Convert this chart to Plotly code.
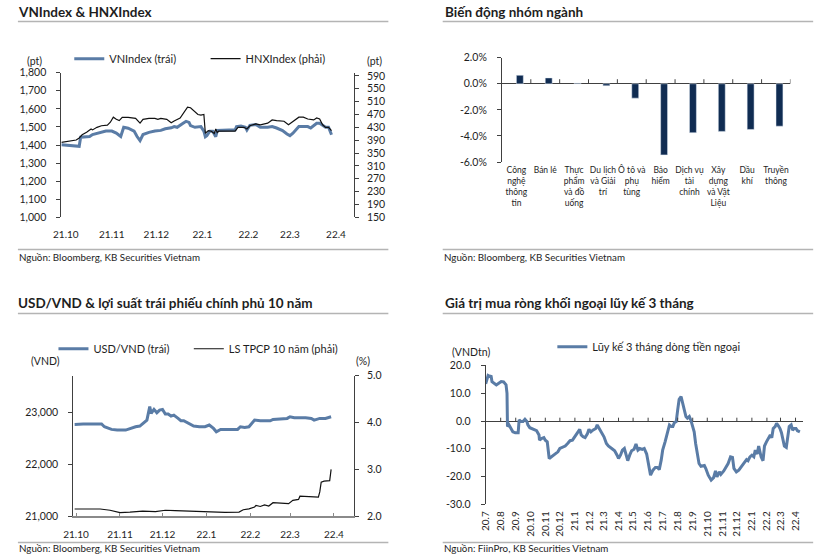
import plotly.graph_objects as go
import pandas as pd

W, H = 826, 559
def fx(x): return x / W
def fy(y):
    # the photographed page is squeezed slightly in height; map reference pixel rows accordingly
    return 1 - ((y - 7.5) / 0.975) / H

FONT = "Lato"
TXT = "#1e1e1e"
BLUE = "#5a7ca6"
NAVY = "#102c52"
SEP = "#b4b4b4"

# ---------------- Panel 1: VNIndex & HNXIndex ----------------
vn_dates = ["2021-09-28","2021-10-01","2021-10-10","2021-10-11","2021-10-17","2021-10-19","2021-10-23","2021-10-28",
            "2021-11-01","2021-11-04","2021-11-07","2021-11-09","2021-11-12","2021-11-16","2021-11-18","2021-11-20",
            "2021-11-22","2021-11-26","2021-11-30","2021-12-04","2021-12-07","2021-12-11","2021-12-13","2021-12-15",
            "2021-12-19","2021-12-21","2021-12-23","2021-12-24","2021-12-27","2021-12-29","2021-12-31","2022-01-02",
            "2022-01-03","2022-01-04","2022-01-06","2022-01-08","2022-01-10","2022-01-11","2022-01-15","2022-01-19",
            "2022-01-23","2022-01-24","2022-01-27","2022-01-30","2022-01-31","2022-02-02","2022-02-06","2022-02-09",
            "2022-02-14","2022-02-17","2022-02-20","2022-02-24","2022-02-27","2022-03-01","2022-03-03","2022-03-07",
            "2022-03-10","2022-03-13","2022-03-15","2022-03-19","2022-03-21","2022-03-23","2022-03-25","2022-03-27",
            "2022-03-29"]
vn_values = [1401,1400,1393,1443,1447,1458,1466,1477,
             1477,1466,1447,1498,1493,1477,1447,1424,
             1458,1470,1477,1481,1490,1495,1502,1498,
             1520,1531,1525,1507,1498,1498,1502,1477,
             1446,1452,1476,1476,1446,1480,1483,1483,
             1483,1502,1505,1498,1483,1509,1513,1498,
             1498,1502,1494,1480,1461,1452,1465,1502,
             1502,1502,1494,1520,1520,1507,1498,1498,
             1457]

hnx_dates = ["2021-09-28","2021-10-03","2021-10-08","2021-10-10","2021-10-12","2021-10-15","2021-10-18","2021-10-19",
             "2021-10-22","2021-10-25","2021-10-29","2021-10-31","2021-11-02","2021-11-04","2021-11-06","2021-11-08",
             "2021-11-12","2021-11-17","2021-11-20","2021-11-22","2021-11-26","2021-11-30","2021-12-02","2021-12-04",
             "2021-12-08","2021-12-11","2021-12-13","2021-12-17","2021-12-20","2021-12-22","2021-12-24","2021-12-27",
             "2021-12-29","2021-12-31","2022-01-02","2022-01-03","2022-01-05","2022-01-07","2022-01-09","2022-01-10",
             "2022-01-11","2022-01-12","2022-01-15","2022-01-23","2022-01-25","2022-01-29","2022-01-31","2022-02-02",
             "2022-02-06","2022-02-09","2022-02-14","2022-02-17","2022-02-20","2022-02-25","2022-02-28","2022-03-03",
             "2022-03-07","2022-03-10","2022-03-13","2022-03-17","2022-03-19","2022-03-21","2022-03-23","2022-03-25",
             "2022-03-27","2022-03-29"]
hnx_values = [383,386.5,390.6,397,407,414.6,425,422,
              430,435,437,446,461.5,455,451,461,
              461,458,443,455,458,458,455,458,
              455,444,450,459,482,493,491,477,
              470,468,470,411.5,420,418,411,425,
              414,418,418,418,430,430,425,435,
              440.6,438,443,453,451,449,438,449,
              461.5,461.5,456,453,459,456,438,430,
              430,420]

vn_ticks = [1000,1100,1200,1300,1400,1500,1600,1700,1800]
hnx_ticks = [150,190,230,270,310,350,390,430,470,510,550,590]

# ---------------- Panel 2: Sector performance ----------------
sectors = ["Công nghệ thông tin","Bán lẻ","Thực phẩm và đồ uống","Du lịch và Giải trí","Ô tô và phụ tùng",
           "Bảo hiểm","Dịch vụ tài chính","Xây dựng và Vật Liệu","Dầu khí","Truyền thông"]
sector_labels = ["Công<br>nghệ<br>thông<br>tin","Bán lẻ","Thực<br>phẩm<br>và đồ<br>uống","Du lịch<br>và Giải<br>trí",
                 "Ô tô và<br>phụ<br>tùng","Bảo<br>hiểm","Dịch vụ<br>tài<br>chính","Xây<br>dựng<br>và Vật<br>Liệu",
                 "Dầu<br>khí","Truyền<br>thông"]
sector_change = [0.65,0.45,0.05,-0.15,-1.1,-5.45,-3.75,-3.65,-3.5,-3.25]
pct_ticks = [2,0,-2,-4,-6]
pct_ticktext = ["2.0%","0.0%","-2.0%","-4.0%","-6.0%"]

# ---------------- Panel 3: USD/VND & 10Y bond yield ----------------
fx_dates = ["2021-09-30","2021-10-06","2021-10-19","2021-10-21","2021-10-26","2021-10-30","2021-11-05","2021-11-08",
            "2021-11-12","2021-11-15","2021-11-17","2021-11-20","2021-11-22","2021-11-23","2021-11-25","2021-11-27",
            "2021-11-29","2021-12-01","2021-12-03","2021-12-05","2021-12-07","2021-12-09","2021-12-12","2021-12-14",
            "2021-12-16","2021-12-20","2021-12-23","2021-12-27","2021-12-31","2022-01-03","2022-01-05","2022-01-06",
            "2022-01-08","2022-01-11","2022-01-16","2022-01-23","2022-01-25","2022-01-28","2022-01-31","2022-02-02",
            "2022-02-04","2022-02-08","2022-02-15","2022-02-17","2022-02-24","2022-02-27","2022-03-01","2022-03-04",
            "2022-03-12","2022-03-16","2022-03-18","2022-03-20","2022-03-22","2022-03-26","2022-03-30"]
usdvnd = [22763,22770,22770,22718,22667,22654,22654,22686,
          22718,22731,22782,22846,23103,22974,23051,22987,
          23038,23051,22962,22962,22923,22942,22878,22833,
          22833,22770,22731,22718,22718,22750,22718,22686,
          22622,22667,22667,22667,22718,22705,22718,22782,
          22846,22833,22833,22859,22865,22878,22910,22891,
          22891,22878,22846,22859,22878,22878,22910]

bond_dates = ["2021-09-30","2021-10-18","2021-10-25","2021-11-01","2021-11-08","2021-11-17","2021-11-26","2021-12-03",
              "2021-12-10","2021-12-19","2021-12-28","2022-01-07","2022-01-14","2022-01-24","2022-01-27","2022-01-31",
              "2022-02-04","2022-02-05","2022-02-08","2022-02-11","2022-02-14","2022-02-17","2022-02-20","2022-02-28",
              "2022-03-03","2022-03-07","2022-03-08","2022-03-21","2022-03-22","2022-03-23","2022-03-25","2022-03-28",
              "2022-03-29","2022-03-30"]
bond_yield = [2.156,2.156,2.13,2.08,2.09,2.11,2.10,2.13,
              2.12,2.11,2.10,2.085,2.085,2.09,2.14,2.16,
              2.20,2.235,2.21,2.245,2.22,2.29,2.285,2.27,
              2.34,2.36,2.43,2.41,2.52,2.73,2.75,2.75,
              2.76,3.0]

# ---------------- Panel 4: foreign net buying, 3M cumulative ----------------
flow_dates = ["2020-07-01","2020-07-04","2020-07-06","2020-07-10","2020-07-12","2020-07-14","2020-07-19","2020-07-23",
              "2020-07-28","2020-08-02","2020-08-07","2020-08-12","2020-08-14","2020-08-15","2020-08-18","2020-08-22",
              "2020-08-26","2020-08-31","2020-09-06","2020-09-08","2020-09-12","2020-09-16","2020-09-20","2020-09-24",
              "2020-09-26","2020-09-30","2020-10-07","2020-10-14","2020-10-19","2020-10-20","2020-10-24","2020-10-29",
              "2020-11-01","2020-11-05","2020-11-09","2020-11-13","2020-11-20","2020-11-27","2020-12-01","2020-12-07",
              "2020-12-12","2020-12-17","2020-12-22","2020-12-27","2021-01-01","2021-01-06","2021-01-11","2021-01-14",
              "2021-01-18","2021-01-22","2021-01-27","2021-01-30","2021-02-03","2021-02-07","2021-02-13","2021-02-16",
              "2021-02-20","2021-02-25","2021-03-02","2021-03-07","2021-03-11","2021-03-18","2021-03-24","2021-03-29",
              "2021-04-01","2021-04-05","2021-04-09","2021-04-13","2021-04-16","2021-04-20","2021-04-24","2021-04-28",
              "2021-05-03","2021-05-07","2021-05-11","2021-05-15","2021-05-20","2021-05-24","2021-05-29","2021-06-02",
              "2021-06-06","2021-06-11","2021-06-16","2021-06-20","2021-06-24","2021-06-28","2021-07-01","2021-07-06",
              "2021-07-12","2021-07-15","2021-07-19","2021-07-22","2021-07-25","2021-07-29","2021-08-01","2021-08-04",
              "2021-08-08","2021-08-11","2021-08-15","2021-08-18","2021-08-21","2021-08-25","2021-08-28","2021-09-01",
              "2021-09-04","2021-09-07","2021-09-11","2021-09-14","2021-09-18","2021-09-25","2021-09-28","2021-10-03",
              "2021-10-09","2021-10-14","2021-10-18","2021-10-21","2021-10-26","2021-10-29","2021-11-04","2021-11-08",
              "2021-11-13","2021-11-18","2021-11-22","2021-11-25","2021-11-30","2021-12-05","2021-12-10","2021-12-15",
              "2021-12-21","2021-12-24","2021-12-28","2022-01-01","2022-01-05","2022-01-08","2022-01-12","2022-01-15",
              "2022-01-20","2022-01-24","2022-01-27","2022-01-31","2022-02-04","2022-02-08","2022-02-11","2022-02-14",
              "2022-02-18","2022-02-21","2022-02-25","2022-02-28","2022-03-03","2022-03-06","2022-03-09","2022-03-13",
              "2022-03-16","2022-03-19","2022-03-23","2022-03-26","2022-03-29","2022-04-02","2022-04-05","2022-04-10"]
flow_values = [13.4,14.8,16.4,16.0,16.4,14.2,13.6,13.0,
               13.6,14.2,14.1,13.0,10.0,-2.0,-1.4,-2.7,
               -3.9,-4.2,-4.2,0.4,-0.2,-0.2,0.6,-0.2,
               -1.4,-2.4,-2.9,-3.5,-5.0,-6.9,-6.3,-6.0,
               -6.9,-7.5,-13.5,-12.9,-12.0,-11.1,-9.9,-9.5,
               -9.0,-8.1,-7.1,-6.9,-5.7,-4.5,-3.0,-5.0,
               -5.7,-6.0,-4.5,-3.0,-3.9,-3.3,-2.7,-1.4,
               -2.7,-3.9,-5.7,-8.1,-9.0,-9.9,-10.7,-12.3,
               -13.5,-12.3,-10.5,-9.9,-11.7,-14.3,-12.3,-10.7,
               -10.2,-8.3,-10.5,-9.9,-10.2,-9.9,-11.9,-16.3,
               -19.5,-17.7,-16.7,-16.7,-17.5,-14.1,-10.5,-7.5,
               -3.5,-1.4,-2.0,-2.0,-0.6,-0.2,4.0,7.8,
               8.8,6.4,4.0,1.6,1.0,1.6,0.4,-2.0,
               -3.9,-8.1,-11.7,-15.3,-16.3,-16.0,-17.1,-19.5,
               -21.3,-20.4,-18.0,-20.1,-18.3,-19.2,-18.0,-16.7,
               -15.3,-12.9,-13.1,-17.1,-18.3,-17.7,-16.5,-15.3,
               -13.9,-14.3,-12.9,-12.3,-12.9,-10.5,-11.9,-9.0,
               -12.9,-14.3,-9.0,-7.5,-6.3,-5.0,-6.0,-2.7,
               -2.0,-0.8,-1.8,-2.7,-4.2,-7.1,-9.0,-9.5,
               -5.0,-2.0,-1.4,-3.3,-2.7,-2.7,-3.5,-3.9]
flow_ticks = [20,10,0,-10,-20,-30]
flow_ticktext = ["20.0","10.0","0.0","-10.0","-20.0","-30.0"]

fig = go.Figure()

fig.add_trace(go.Scatter(x=vn_dates, y=vn_values, name="VNIndex (trái)", mode="lines",
                         line=dict(color=BLUE, width=3), xaxis="x", yaxis="y", legend="legend"))
fig.add_trace(go.Scatter(x=hnx_dates, y=hnx_values, name="HNXIndex (phải)", mode="lines",
                         line=dict(color="#111111", width=1.2), xaxis="x", yaxis="y2", legend="legend4"))
fig.add_trace(go.Bar(x=sectors, y=sector_change, marker_color=NAVY, width=0.24, offset=0,
                     xaxis="x2", yaxis="y3", showlegend=False))
fig.add_trace(go.Scatter(x=fx_dates, y=usdvnd, name="USD/VND (trái)", mode="lines",
                         line=dict(color=BLUE, width=3), xaxis="x3", yaxis="y4", legend="legend2"))
fig.add_trace(go.Scatter(x=bond_dates, y=bond_yield, name="LS TPCP 10 năm (phải)", mode="lines",
                         line=dict(color="#111111", width=1.2), xaxis="x3", yaxis="y5", legend="legend5"))
fig.add_trace(go.Scatter(x=flow_dates, y=flow_values, name="Lũy kế 3 tháng dòng tiền ngoại", mode="lines",
                         line=dict(color=BLUE, width=3), xaxis="x4", yaxis="y6", legend="legend3"))

TS = 10.5
tickfont = dict(family=FONT, size=TS, color=TXT)
xtickfont = dict(family=FONT, size=10, color=TXT)
axcol = "#404040"

def leg(x, y):
    return dict(x=fx(x), y=fy(y), xanchor="left", yanchor="middle", orientation="h",
                font=dict(family=FONT, size=11, color=TXT), bgcolor="rgba(0,0,0,0)",
                borderwidth=0)

layout = dict(
    width=W, height=H, margin=dict(l=0, r=0, t=0, b=0),
    paper_bgcolor="white", plot_bgcolor="white",
    font=dict(family=FONT, size=10.5, color=TXT),
    xaxis=dict(domain=[fx(52), fx(348)], anchor="y", type="date",
               range=["2021-09-28", "2022-04-13"], dtick="M1", tick0="2021-10-01",
               tickformat="%y.%-m", showline=False, ticks="", showgrid=False, zeroline=False,
               tickfont=xtickfont, ticklabelstandoff=10),
    yaxis=dict(domain=[fy(218), fy(74)], anchor="x", range=[1000, 1800], tickvals=vn_ticks,
               tickformat=",", showline=True, linecolor=axcol, linewidth=1, ticks="outside",
               ticklen=4, tickcolor=axcol, showgrid=False, zeroline=False, tickfont=tickfont,
               ticklabelstandoff=8),
    yaxis2=dict(domain=[fy(218), fy(74)], anchor="x", overlaying="y", side="right",
                range=[150, 600], tickvals=hnx_ticks, showline=True, linecolor=axcol, linewidth=1,
                ticks="outside", ticklen=4, tickcolor=axcol, showgrid=False, zeroline=False,
                tickfont=tickfont, ticklabelstandoff=6),
    xaxis2=dict(domain=[fx(498), fx(790)], anchor="y3", type="category", range=[-0.5, 9.5],
                tickvals=sectors, ticktext=sector_labels, tickangle=0, showline=False, ticks="",
                showgrid=False, zeroline=False, tickfont=dict(family=FONT, size=8.5, color=TXT),
                ticklabelstandoff=1),
    yaxis3=dict(domain=[fy(163), fy(59)], anchor="x2", range=[-6, 2], tickvals=pct_ticks,
                ticktext=pct_ticktext, showline=True, linecolor=axcol, linewidth=1, ticks="outside",
                ticklen=4, tickcolor=axcol, showgrid=False, zeroline=True, zerolinecolor=axcol,
                zerolinewidth=1, tickfont=tickfont, ticklabelstandoff=8),
    xaxis3=dict(domain=[fx(64), fx(348)], anchor="y4", type="date",
                range=["2021-09-29", "2022-04-15"], dtick="M1", tick0="2021-10-01",
                tickformat="%y.%-m", showline=True, linecolor="#8a8a8a", linewidth=1.5, ticks="inside",
                ticklen=4, tickcolor="#8a8a8a", showgrid=False, zeroline=False, tickfont=xtickfont,
                ticklabelstandoff=8),
    yaxis4=dict(domain=[fy(516), fy(375.7)], anchor="x3", range=[21000, 23700],
                tickvals=[21000, 22000, 23000], tickformat=",", showline=True, linecolor=axcol,
                linewidth=1, ticks="outside", ticklen=4, tickcolor=axcol, showgrid=False,
                zeroline=False, tickfont=tickfont, ticklabelstandoff=8),
    yaxis5=dict(domain=[fy(516), fy(375.7)], anchor="x3", overlaying="y4", side="right",
                range=[2, 5], tickvals=[2, 3, 4, 5], tickformat=".1f", showline=True,
                linecolor=axcol, linewidth=1, ticks="outside", ticklen=4, tickcolor=axcol,
                showgrid=False, zeroline=False, tickfont=tickfont, ticklabelstandoff=6),
    xaxis4=dict(domain=[fx(481.5), fx(803)], anchor="y6", type="date",
                range=["2020-07-01", "2022-04-17"], dtick="M1", tick0="2020-07-01",
                tickformat="%y.%-m", tickangle=-90, showline=False, ticks="", showgrid=False,
                zeroline=False, tickfont=xtickfont, ticklabelstandoff=4),
    yaxis6=dict(domain=[fy(504), fy(365.7)], anchor="x4", range=[-30, 20], tickvals=flow_ticks,
                ticktext=flow_ticktext, showline=True, linecolor=axcol, linewidth=1, ticks="outside",
                ticklen=4, tickcolor=axcol, showgrid=False, zeroline=True, zerolinecolor=axcol,
                zerolinewidth=1, tickfont=tickfont, ticklabelstandoff=8),
    legend=leg(60, 60),
    legend4=leg(198, 60),
    legend2=leg(44, 349),
    legend5=leg(181, 349),
    legend3=leg(549, 347),
)
fig.update_layout(**layout)

shapes = []
for y in (23, 250, 314, 542):
    for x0, x1 in ((8, 383), (438, 813)):
        shapes.append(dict(type="line", xref="paper", yref="paper", x0=fx(x0), x1=fx(x1),
                           y0=fy(y), y1=fy(y), line=dict(color=SEP, width=1.5)))
for i in range(len(sectors)):
    shapes.append(dict(type="line", xref="x2", yref="y3", x0=i + 0.5, x1=i + 0.5, y0=0, y1=0.35,
                       line=dict(color=axcol, width=1)))
for d in pd.date_range("2020-08-01", "2022-04-01", freq="MS"):
    shapes.append(dict(type="line", xref="x4", yref="y6", x0=d, x1=d, y0=0, y1=1.2,
                       line=dict(color=axcol, width=1)))
fig.update_layout(shapes=shapes)

ann = []
def add_text(text, x, y, size=11, bold=False, xanchor="left"):
    ann.append(dict(text=f"<b>{text}</b>" if bold else text, x=fx(x), y=fy(y), xref="paper",
                    yref="paper", xanchor=xanchor, yanchor="middle", showarrow=False,
                    font=dict(family=FONT, size=size, color=TXT)))

add_text("VNIndex & HNXIndex", 6, 13, 13.5, True)
add_text("Biến động nhóm ngành", 438, 13, 13.5, True)
add_text("USD/VND & lợi suất trái phiếu chính phủ 10 năm", 6, 303, 13.5, True)
add_text("Giá trị mua ròng khối ngoại lũy kế 3 tháng", 438, 303, 13.5, True)
add_text("Nguồn: Bloomberg, KB Securities Vietnam", 7, 258, 9.8)
add_text("Nguồn: Bloomberg, KB Securities Vietnam", 437, 258, 9.8)
add_text("Nguồn: Bloomberg, KB Securities Vietnam", 7, 547.5, 9.8)
add_text("Nguồn: FiinPro, KB Securities Vietnam", 437, 547.5, 9.8)
add_text("(pt)", 25, 62, TS, xanchor="center")
add_text("(pt)", 369, 62, TS, xanchor="center")
add_text("(VND)", 36, 361, TS, xanchor="center")
add_text("(%)", 357, 361, TS, xanchor="center")
add_text("(VNDtn)", 467, 352, TS, xanchor="center")
fig.update_layout(annotations=ann)

post = ("document.documentElement.style.margin='0';document.documentElement.style.overflow='hidden';"
        "document.body.style.margin='0';document.body.style.padding='0';document.body.style.overflow='hidden';"
        "var gd=document.getElementById('{plot_id}');gd.style.position='fixed';gd.style.left='0px';gd.style.top='0px';")
fig.write_html("out.html", config={"displayModeBar": False}, post_script=post)
